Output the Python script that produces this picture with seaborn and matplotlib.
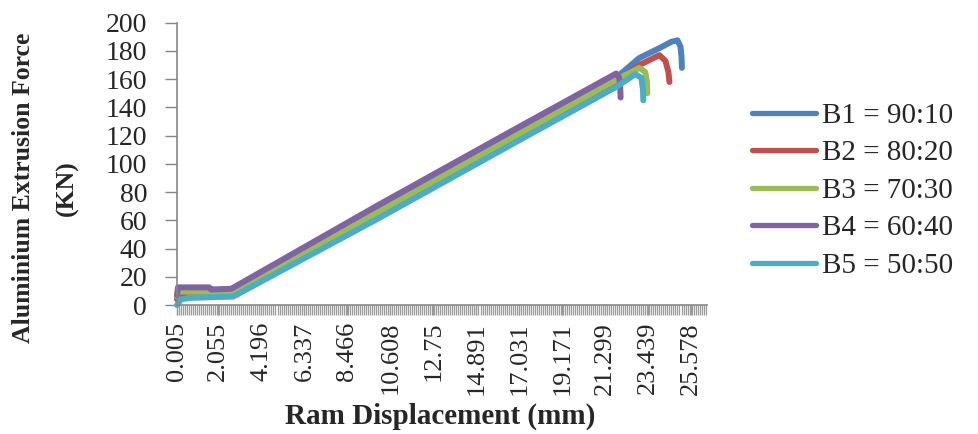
import pandas as pd
import matplotlib.pyplot as plt
import seaborn as sns
from matplotlib.ticker import FixedLocator, MultipleLocator

# series (ram displacement in mm, force in kN)
b1_x = [0, 0.05, 0.5, 2.7, 10.1, 17.06, 21.85, 23.0, 24.0, 24.6, 24.9, 25.05, 25.1, 25.12]
b1_y = [5, 9, 9, 8.5, 67.5, 122.5, 161, 175, 182, 186.5, 187.5, 183, 176, 168]
b2_x = [0, 0.05, 0.5, 2.7, 10.1, 17.06, 21.85, 23.0, 24.0, 24.3, 24.45, 24.5]
b2_y = [4, 7.5, 7.5, 7, 64.5, 119.5, 158, 170, 177, 173, 165, 158]
b3_x = [0, 0.05, 0.4, 2.7, 10.1, 17.06, 21.85, 22.6, 23.0, 23.3, 23.38, 23.4]
b3_y = [6, 9.5, 9.5, 9, 66.5, 121.5, 159.5, 165, 168, 165, 158, 150]
b4_x = [0, 0.05, 1.6, 1.7, 2.7, 10.1, 17.06, 21.85, 22.0, 22.05, 22.07]
b4_y = [7, 12.5, 12.5, 11, 11.5, 71.5, 126.5, 164, 161, 154, 147]
b5_x = [0, 0.2, 0.6, 2.8, 10.1, 17.06, 21.85, 22.8, 23.1, 23.18, 23.2]
b5_y = [0, 4, 5, 6, 62, 117, 154.5, 163.5, 161, 153, 145]

blends = ['B1 = 90:10', 'B2 = 80:20', 'B3 = 70:30', 'B4 = 60:40', 'B5 = 50:50']
colors = ['#4F81BD', '#C0504D', '#9BBB59', '#8064A2', '#4BACC6']

tick_vals = [0.005, 2.055, 4.196, 6.337, 8.466, 10.608, 12.75, 14.891,
             17.031, 19.171, 21.299, 23.439, 25.578]
tick_labels = ['0.005', '2.055', '4.196', '6.337', '8.466', '10.608', '12.75',
               '14.891', '17.031', '19.171', '21.299', '23.439', '25.578']

frames = []
for name, xs, ys in zip(blends, [b1_x, b2_x, b3_x, b4_x, b5_x],
                        [b1_y, b2_y, b3_y, b4_y, b5_y]):
    frames.append(pd.DataFrame({'disp': xs, 'force': ys, 'blend': name}))
data = pd.concat(frames, ignore_index=True)

sns.set_style('white')
plt.rcParams['font.family'] = ['Liberation Serif', 'DejaVu Serif']

fig = plt.figure(figsize=(9.79, 4.34), dpi=100)
ax = fig.add_axes([0.1808, 0.2972, 0.5414, 0.6505])

sns.lineplot(data=data, x='disp', y='force', hue='blend', palette=colors,
             sort=False, estimator=None, linewidth=4.3, ax=ax,
             solid_capstyle='round', solid_joinstyle='round')

ax.set_xlim(0, 26.37)
ax.set_ylim(0, 200)
ax.set_yticks(range(0, 201, 20))
ax.xaxis.set_major_locator(FixedLocator(tick_vals))
ax.set_xticklabels(tick_labels, rotation=90, fontsize=19)
ax.xaxis.set_minor_locator(MultipleLocator(0.1))
ax.tick_params(axis='x', which='both', direction='out', length=7.2, width=0.9,
               color='#9A9A9A', bottom=True, pad=5)
ax.tick_params(axis='y', direction='out', length=8.5, width=1, color='#868686',
               left=True, labelsize=20, pad=13)
ax.set_xlabel('')
ax.set_ylabel('')

for s in ['top', 'right']:
    ax.spines[s].set_visible(False)
for s in ['left', 'bottom']:
    ax.spines[s].set_color('#868686')
    ax.spines[s].set_linewidth(1.2)

for line in ax.lines:
    line.set_clip_on(False)

handles, labels = ax.get_legend_handles_labels()
ax.get_legend().remove()
for h in handles:
    h.set_linewidth(3.8)
    h.set_solid_capstyle('round')
fig.legend(handles, labels, loc='center left', bbox_to_anchor=(0.768, 0.561),
           frameon=False, fontsize=21, handlelength=2.2, handletextpad=0.2,
           labelspacing=0.38, borderpad=0, borderaxespad=0)

fig.text(440 / 979, 1 - 416 / 434, 'Ram Displacement (mm)', ha='center',
         va='center', fontsize=21, fontweight='bold')
fig.text(24 / 979, 1 - 188 / 434, 'Aluminium Extrusion Force', rotation=90,
         ha='center', va='center', fontsize=18.5, fontweight='bold')
fig.text(67 / 979, 1 - 188 / 434, '(KN)', rotation=90, ha='center',
         va='center', fontsize=18.5, fontweight='bold')

fig.savefig('out.png', dpi=100)
